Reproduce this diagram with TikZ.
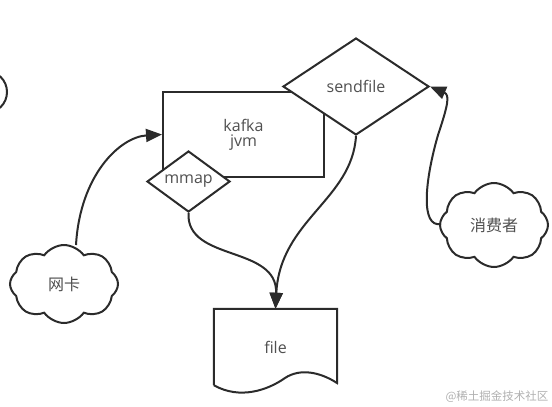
\documentclass[tikz,border=0pt]{standalone}
\usepackage{fontspec}
\setmainfont{Open Sans}
\newfontfamily\cjk{Noto Sans CJK SC}
\usetikzlibrary{shapes.geometric,shapes.symbols,arrows.meta}
\definecolor{ln}{HTML}{2B2B2B}
\definecolor{tx}{HTML}{505050}
\definecolor{wm}{HTML}{B0B0B0}
\tikzset{
  shp/.style={draw=ln,line width=2pt,fill=white,text=tx,font=\fontsize{16}{18}\selectfont,inner sep=0pt},
  dia/.style={shp,diamond},
  cld/.style={shp,cloud,cloud puffs=8,cloud puff arc=110},
  conn/.style={draw=ln,line width=2pt,-{Triangle[length=16pt,width=13pt]}},
}
\begin{document}
\begin{tikzpicture}[x=1pt,y=-1pt]
\useasboundingbox (0,0) rectangle (552,407);
% partial circle at left edge
\node[draw=ln,line width=2pt,circle,minimum size=42pt,inner sep=0pt] (edge) at (-14,92) {};
% kafka jvm box
\node[shp,rectangle,minimum width=161pt,minimum height=85pt,align=center] (jvm) at (243.5,134.5) {kafka\\[-3pt]jvm};
% diamonds
\node[dia,minimum width=146pt,minimum height=97pt,aspect=1.5] (sendfile) at (356,86.5) {sendfile};
\node[dia,minimum width=83pt,minimum height=61pt,aspect=1.36] (mmap) at (188.5,181.5) {mmap};
% file document
\node[minimum width=123pt,minimum height=76pt,inner sep=0pt,text=tx,font=\fontsize{16}{18}\selectfont] (file) at (275.5,347) {file};
\draw[draw=ln,line width=2pt] (file.south west) -- (file.north west) -- (file.north east) -- (337,383)
  .. controls (320,372) and (300,368) .. (285,378)
  .. controls (268,390) and (240,400) .. (file.south west);
% clouds
\node[cld,minimum width=108pt,minimum height=78pt,aspect=1.4] (nic) at (64,284) {\cjk 网卡};
\node[cld,minimum width=108pt,minimum height=84pt,aspect=1.3] (cons) at (494,225) {\cjk 消费者};
\coordinate (nicTop) at (76,245);
\coordinate (consW) at (441,224);
% connectors
\draw[conn] (nicTop) .. controls (80,175) and (120,137) .. (jvm.west);
\draw[conn] (mmap.south) .. controls (186,262) and (278,245) .. (file.north);
\draw[conn] (sendfile.south) .. controls (352,200) and (280,220) .. (file.north);
\draw[conn] (consW) .. controls (420,228) and (425,180) .. (438,135) .. controls (448,105) and (450,95) .. (sendfile.east);
% watermark
\node[text=wm,font=\cjk\fontsize{11.5}{13}\selectfont,inner sep=0pt] (wmark) at (497,397) {@稀土掘金技术社区};
\end{tikzpicture}
\end{document}
